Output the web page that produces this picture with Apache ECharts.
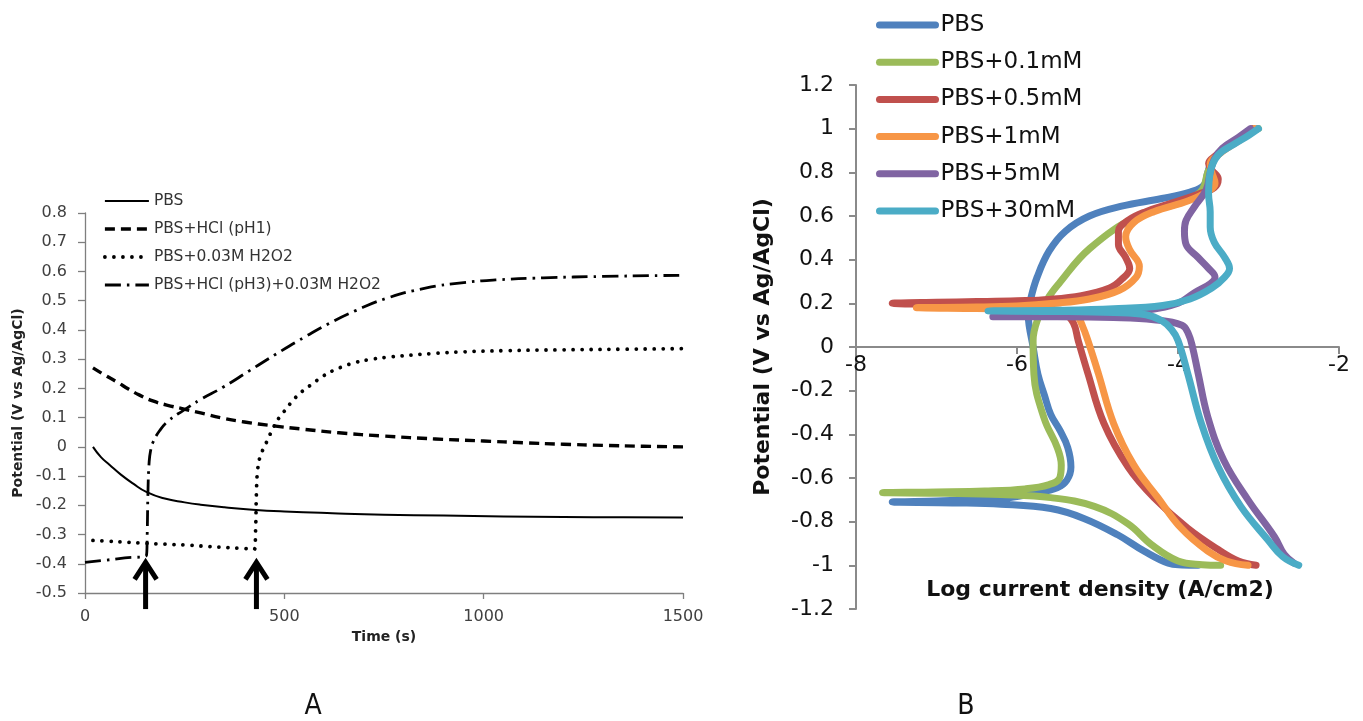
<!DOCTYPE html>
<html>
<head>
<meta charset="utf-8">
<script src="https://cdn.jsdelivr.net/npm/echarts@6/dist/echarts.min.js"></script>
<style>
html,body{margin:0;padding:0;background:#fff;}
#main{width:1363px;height:721px;}
</style>
</head>
<body>
<div id="main"></div>
<script>
// ---------- Panel A : open circuit potential vs time ----------
var aNames = ['PBS', 'PBS+HCl (pH1)', 'PBS+0.03M H2O2', 'PBS+HCl (pH3)+0.03M H2O2'];
var pbsT = [20, 40, 62, 90, 120, 155, 200, 250, 290, 350, 420, 500, 620, 750, 900, 1050, 1200, 1350, 1500];
var pbsV = [0, -0.035, -0.062, -0.095, -0.125, -0.155, -0.177, -0.19, -0.198, -0.207, -0.215, -0.221, -0.227, -0.232, -0.235, -0.238, -0.24, -0.241, -0.242];
var hclT = [20, 50, 80, 110, 137, 170, 205, 246, 290, 346, 400, 471, 550, 637, 750, 879, 1000, 1100, 1200, 1300, 1400, 1500];
var hclV = [0.27, 0.245, 0.222, 0.197, 0.177, 0.157, 0.143, 0.13, 0.116, 0.098, 0.085, 0.072, 0.06, 0.048, 0.037, 0.027, 0.02, 0.014, 0.009, 0.005, 0.002, 0.0];
var h2o2T = [20, 60, 100, 150, 200, 250, 300, 350, 400, 425, 428, 430, 433, 440, 450, 460, 471, 487, 505, 521, 545, 571, 595, 621, 650, 679, 720, 762, 870, 950, 1050, 1200, 1350, 1500];
var h2o2V = [-0.32, -0.323, -0.326, -0.33, -0.333, -0.336, -0.34, -0.344, -0.348, -0.35, -0.28, -0.16, -0.08, -0.03, 0.0, 0.03, 0.062, 0.1, 0.13, 0.158, 0.19, 0.216, 0.24, 0.26, 0.276, 0.289, 0.3, 0.307, 0.319, 0.325, 0.329, 0.332, 0.334, 0.336];
var mixT = [0, 50, 100, 154, 156, 158, 161, 165, 170, 187, 210, 246, 290, 345, 412, 480, 554, 612, 679, 754, 854, 950, 1030, 1150, 1300, 1500];
var mixV = [-0.395, -0.388, -0.38, -0.372, -0.3, -0.15, -0.05, -0.01, 0.014, 0.055, 0.09, 0.124, 0.162, 0.203, 0.26, 0.318, 0.378, 0.422, 0.466, 0.507, 0.543, 0.562, 0.571, 0.578, 0.583, 0.587];
var arrowT = [152, 430];
var arrowTip = -0.385, arrowTail = -0.555;

// ---------- Panel B : Tafel plots ----------
var bNames = ['PBS ', 'PBS+0.1mM', 'PBS+0.5mM', 'PBS+1mM', 'PBS+5mM', 'PBS+30mM'];
var bColors = ['#4F81BD', '#9BBB59', '#C0504D', '#F79646', '#8064A2', '#4BACC6'];
var b0X = [-3.75, -3.95, -4.12, -4.42, -4.75, -5.17, -5.58, -6.2, -6.8, -7.55, -7.0, -6.5, -6.1, -5.79, -5.5, -5.38, -5.33, -5.37, -5.47, -5.58, -5.66, -5.74, -5.8, -5.85, -5.86, -5.83, -5.75, -5.6, -5.4, -5.1, -4.7, -4.2, -3.85, -3.68, -3.63, -3.58, -3.45, -3.25, -3.02];
var b0Y = [-1.0, -0.998, -0.99, -0.935, -0.86, -0.785, -0.74, -0.72, -0.714, -0.71, -0.705, -0.7, -0.69, -0.67, -0.645, -0.61, -0.55, -0.46, -0.38, -0.31, -0.22, -0.125, 0.0, 0.1, 0.15, 0.22, 0.32, 0.44, 0.53, 0.6, 0.645, 0.68, 0.71, 0.74, 0.8, 0.85, 0.9, 0.95, 1.0];
var b1X = [-3.47, -3.7, -4.0, -4.33, -4.62, -5.04, -5.58, -6.2, -6.9, -7.67, -7.0, -6.4, -5.9, -5.6, -5.47, -5.45, -5.5, -5.66, -5.79, -5.8, -5.75, -5.62, -5.48, -5.1, -4.5, -3.9, -3.7, -3.63, -3.55, -3.42, -3.22, -3.0];
var b1Y = [-1.0, -0.997, -0.98, -0.905, -0.81, -0.73, -0.69, -0.676, -0.67, -0.667, -0.664, -0.66, -0.65, -0.63, -0.6, -0.54, -0.46, -0.33, -0.125, 0.03, 0.12, 0.22, 0.29, 0.45, 0.6, 0.67, 0.72, 0.8, 0.86, 0.91, 0.96, 1.0];
var b2X = [-3.03, -3.25, -3.47, -3.88, -4.3, -4.62, -4.92, -5.12, -5.24, -5.3, -5.42, -5.8, -6.5, -7.0, -7.55, -7.0, -6.5, -6.0, -5.6, -5.2, -4.85, -4.7, -4.6, -4.65, -4.74, -4.74, -4.62, -4.4, -4.07, -3.75, -3.55, -3.5, -3.58, -3.62, -3.52, -3.4, -3.22, -3.08];
var b2Y = [-1.0, -0.98, -0.935, -0.83, -0.69, -0.55, -0.35, -0.12, 0.03, 0.11, 0.155, 0.18, 0.19, 0.195, 0.2, 0.205, 0.208, 0.212, 0.218, 0.235, 0.27, 0.31, 0.36, 0.41, 0.47, 0.53, 0.58, 0.62, 0.66, 0.7, 0.73, 0.77, 0.81, 0.84, 0.88, 0.92, 0.96, 1.0];
var b3X = [-3.13, -3.4, -3.63, -3.96, -4.25, -4.55, -4.8, -4.99, -5.12, -5.18, -5.26, -5.4, -5.8, -6.5, -7.25, -6.5, -6.0, -5.54, -5.1, -4.73, -4.52, -4.48, -4.6, -4.65, -4.55, -4.3, -3.87, -3.6, -3.54, -3.58, -3.6, -3.5, -3.35, -3.18, -3.05];
var b3Y = [-1.0, -0.98, -0.935, -0.83, -0.69, -0.54, -0.35, -0.12, 0.03, 0.09, 0.145, 0.165, 0.172, 0.176, 0.18, 0.183, 0.188, 0.2, 0.22, 0.26, 0.32, 0.37, 0.445, 0.505, 0.57, 0.62, 0.67, 0.72, 0.75, 0.8, 0.84, 0.88, 0.92, 0.96, 1.0];
var b4X = [-2.56, -2.68, -2.8, -3.13, -3.43, -3.63, -3.75, -3.82, -3.87, -3.95, -4.3, -4.8, -5.5, -6.3, -5.6, -4.9, -4.4, -4.0, -3.79, -3.6, -3.54, -3.62, -3.75, -3.9, -3.92, -3.9, -3.8, -3.65, -3.6, -3.55, -3.45, -3.25, -3.1];
var b4Y = [-0.99, -0.95, -0.87, -0.7, -0.52, -0.32, -0.12, 0.0, 0.06, 0.1, 0.125, 0.135, 0.138, 0.138, 0.145, 0.155, 0.168, 0.2, 0.25, 0.29, 0.32, 0.36, 0.41, 0.47, 0.53, 0.58, 0.64, 0.72, 0.8, 0.86, 0.91, 0.96, 1.0];
var b5X = [-2.5, -2.7, -2.88, -3.22, -3.5, -3.71, -3.88, -4.0, -4.08, -4.2, -4.4, -4.8, -5.5, -6.36, -5.5, -4.8, -4.19, -3.85, -3.58, -3.42, -3.36, -3.42, -3.55, -3.6, -3.6, -3.62, -3.6, -3.5, -3.3, -3.12, -3.0];
var b5Y = [-1.0, -0.96, -0.885, -0.73, -0.55, -0.35, -0.12, 0.03, 0.08, 0.12, 0.148, 0.158, 0.163, 0.165, 0.168, 0.175, 0.19, 0.22, 0.27, 0.32, 0.36, 0.41, 0.48, 0.55, 0.62, 0.7, 0.8, 0.88, 0.93, 0.97, 1.0];

function zip(xs, ys) { return xs.map(function (x, i) { return [x, ys[i]]; }); }
var bXs = [b0X, b1X, b2X, b3X, b4X, b5X];
var bYs = [b0Y, b1Y, b2Y, b3Y, b4Y, b5Y];

var FONT = '"DejaVu Sans", sans-serif';
var chart = echarts.init(document.getElementById('main'));

var aStyles = [
  { width: 2, type: 'solid', cap: 'butt' },
  { width: 3.4, type: [10, 6], cap: 'butt' },
  { width: 3.8, type: [0.01, 9], cap: 'round' },
  { width: 2.8, type: [16, 6, 2.5, 6], cap: 'butt' }
];
var aData = [zip(pbsT, pbsV), zip(hclT, hclV), zip(h2o2T, h2o2V), zip(mixT, mixV)];

var series = [];
aData.forEach(function (d, i) {
  series.push({
    name: aNames[i], type: 'line', xAxisIndex: 0, yAxisIndex: 0,
    data: d, showSymbol: false, symbol: 'none', smooth: 0.5,
    lineStyle: Object.assign({ color: '#000', join: 'round' }, aStyles[i]),
    itemStyle: { color: '#000' }, silent: true, animation: false
  });
});
series.push({
  type: 'custom', xAxisIndex: 0, yAxisIndex: 0, clip: false, silent: true, animation: false,
  data: arrowT.map(function (t) { return [t]; }),
  renderItem: function (params, api) {
    var t = api.value(0);
    var p1 = api.coord([t, arrowTip]);
    var p2 = api.coord([t, arrowTail]);
    return {
      type: 'group', children: [
        { type: 'line', shape: { x1: p2[0], y1: p2[1], x2: p1[0], y2: p1[1] + 4 }, style: { stroke: '#000', lineWidth: 5 } },
        { type: 'polyline', shape: { points: [[p1[0] - 11, p1[1] + 20], [p1[0], p1[1] + 3], [p1[0] + 11, p1[1] + 20]] }, style: { stroke: '#000', lineWidth: 5, fill: null, lineJoin: 'miter' } }
      ]
    };
  }
});
bNames.forEach(function (n, i) {
  series.push({
    name: n, type: 'line', xAxisIndex: 1, yAxisIndex: 1,
    data: zip(bXs[i], bYs[i]), showSymbol: false, symbol: 'none', smooth: 0.4,
    lineStyle: { color: bColors[i], width: 7, cap: 'round', join: 'round' },
    itemStyle: { color: bColors[i] }, silent: true, animation: false
  });
});

var option = {
  backgroundColor: '#fff',
  animation: false,
  textStyle: { fontFamily: FONT },
  graphic: [
    { type: 'text', x: 313, y: 707, style: { text: 'A', fontSize: 28, fontFamily: '"Liberation Sans Narrow", "DejaVu Sans Condensed", sans-serif', fill: '#111', textAlign: 'center', textVerticalAlign: 'middle' } },
    { type: 'text', x: 966, y: 707, style: { text: 'B', fontSize: 28, fontFamily: '"Liberation Sans Narrow", "DejaVu Sans Condensed", sans-serif', fill: '#111', textAlign: 'center', textVerticalAlign: 'middle' } },
    { type: 'text', x: 1100, y: 590, style: { text: 'Log current density (A/cm2)', fontSize: 22, fontWeight: 'bold', fontFamily: FONT, fill: '#111', textAlign: 'center', textVerticalAlign: 'middle' } }
  ],
  legend: [
    {
      data: aNames, orient: 'vertical', left: 98, top: 188, itemWidth: 44, itemHeight: 16, itemGap: 12,
      itemStyle: { opacity: 0 }, lineStyle: { width: 'inherit' },
      textStyle: { fontSize: 15.5, color: '#333', lineHeight: 16, fontFamily: FONT }, selectedMode: false
    },
    {
      data: bNames, orient: 'vertical', left: 871, top: 8, itemWidth: 56, itemHeight: 24, itemGap: 13.2,
      itemStyle: { opacity: 0 }, lineStyle: { width: 'inherit' },
      textStyle: { fontSize: 23, color: '#111', lineHeight: 24, fontFamily: FONT }, selectedMode: false
    }
  ],
  grid: [
    { left: 85, top: 213, width: 598, height: 380, containLabel: false },
    { left: 856, top: 85, width: 483, height: 524, containLabel: false }
  ],
  xAxis: [
    {
      gridIndex: 0, type: 'value', min: 0, max: 1500, interval: 500,
      name: 'Time (s)', nameLocation: 'middle', nameGap: 37,
      nameTextStyle: { fontSize: 14, fontWeight: 'bold', color: '#222', fontFamily: FONT },
      axisLine: { onZero: false, lineStyle: { color: '#7f7f7f', width: 1.3 } },
      axisTick: { show: true, inside: false, length: 6, lineStyle: { color: '#7f7f7f', width: 1.3 } },
      axisLabel: { fontSize: 16, color: '#404040', margin: 16, fontFamily: FONT,
        formatter: function (v) { return String(v); } },
      splitLine: { show: false }
    },
    {
      gridIndex: 1, type: 'value', min: -8, max: -2, interval: 2, position: 'bottom', offset: -262,
      axisLine: { onZero: false, lineStyle: { color: '#8a8a8a', width: 2 } },
      axisTick: { show: true, inside: false, length: 7, lineStyle: { color: '#8a8a8a', width: 2 } },
      axisLabel: { fontSize: 22, color: '#111', margin: 7, fontFamily: FONT },
      splitLine: { show: false }
    }
  ],
  yAxis: [
    {
      gridIndex: 0, type: 'value', min: -0.5, max: 0.8, interval: 0.1,
      name: 'Potential (V vs Ag/AgCl)', nameLocation: 'middle', nameGap: 60,
      nameTextStyle: { fontSize: 14, fontWeight: 'bold', color: '#222', fontFamily: FONT },
      axisLine: { show: true, onZero: false, lineStyle: { color: '#7f7f7f', width: 1.3 } },
      axisTick: { show: true, inside: false, length: 7, lineStyle: { color: '#7f7f7f', width: 1.3 } },
      axisLabel: { fontSize: 16, color: '#404040', margin: 18, fontFamily: FONT,
        formatter: function (v) { return String(+v.toFixed(1)); } },
      splitLine: { show: false }
    },
    {
      gridIndex: 1, type: 'value', min: -1.2, max: 1.2, interval: 0.2,
      name: 'Potential (V vs Ag/AgCl)', nameLocation: 'middle', nameGap: 82,
      nameTextStyle: { fontSize: 22, fontWeight: 'bold', color: '#111', fontFamily: FONT },
      axisLine: { show: true, onZero: false, lineStyle: { color: '#8a8a8a', width: 2 } },
      axisTick: { show: true, inside: false, length: 7, lineStyle: { color: '#8a8a8a', width: 2 } },
      axisLabel: { fontSize: 22, color: '#111', margin: 22, fontFamily: FONT,
        formatter: function (v) { return String(+v.toFixed(1)); } },
      splitLine: { show: false }
    }
  ],
  series: series
};
chart.setOption(option);
</script>
</body>
</html>
